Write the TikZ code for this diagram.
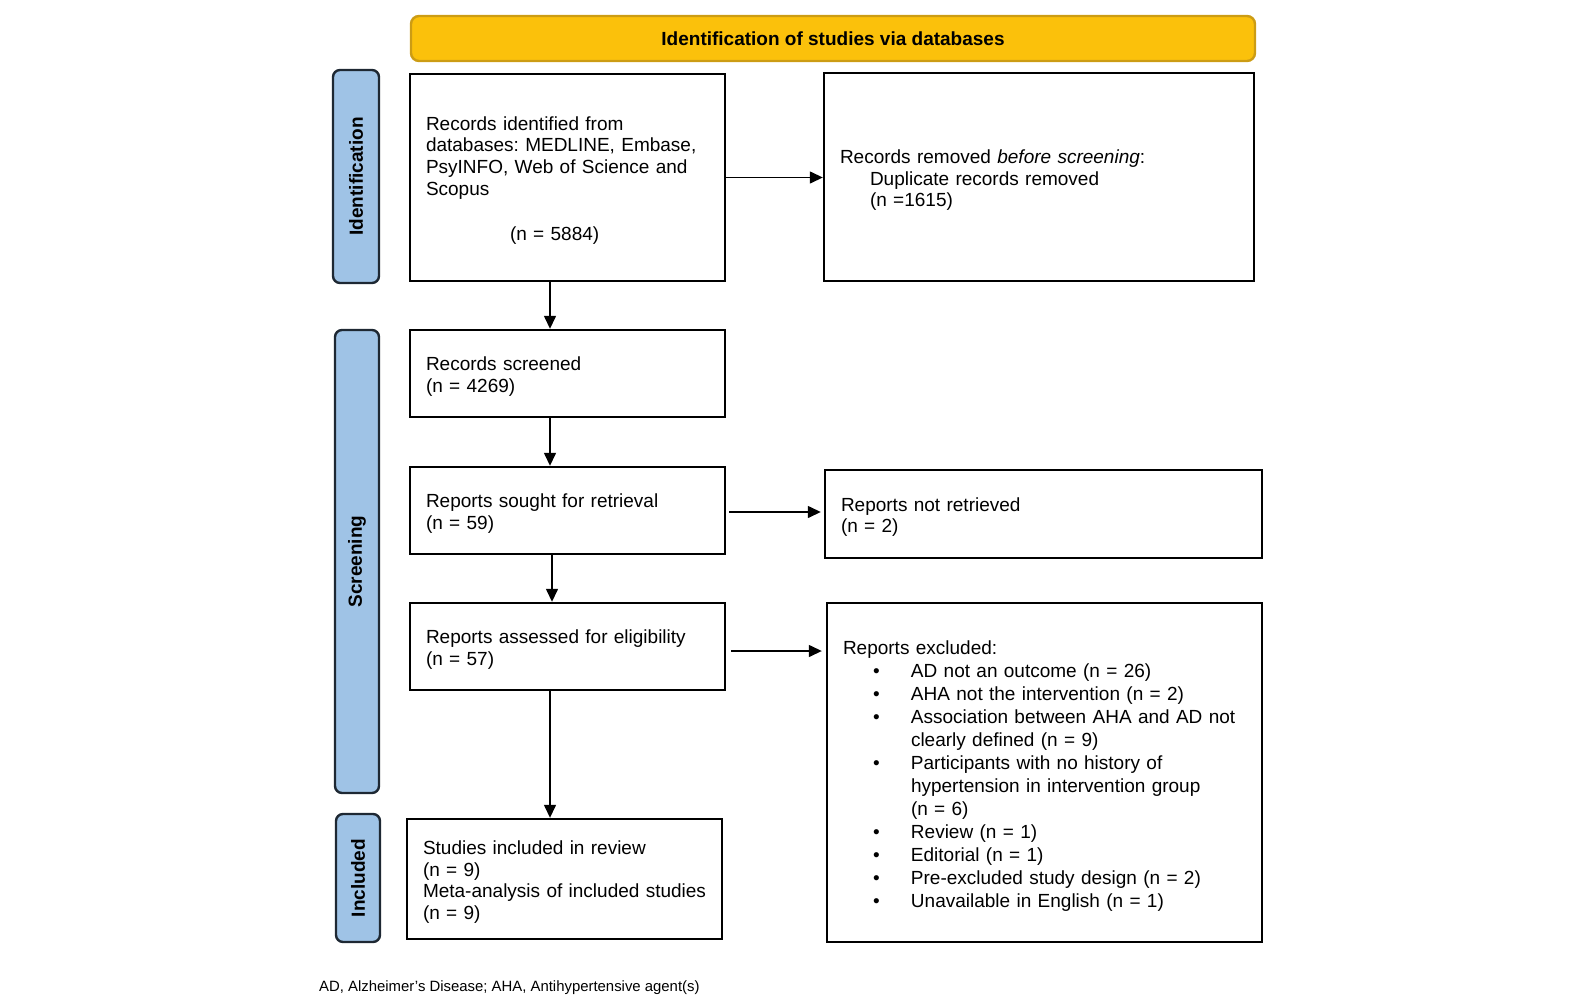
\documentclass[tikz,border=0pt]{standalone}
\usepackage{fontspec}
\setmainfont{Liberation Sans}
\usepackage{tikz}
\usetikzlibrary{arrows.meta,calc}
\frenchspacing
\definecolor{banner}{HTML}{FBC10B}
\definecolor{bannerdraw}{HTML}{CC9C14}
\definecolor{phase}{HTML}{9FC3E6}
\definecolor{phasedraw}{HTML}{1E2833}
\newcommand{\bodysize}{\fontsize{19}{21.8}\selectfont}
\newcommand{\listsize}{\fontsize{19}{23}\selectfont}
\newcommand{\topgap}{\rule{0pt}{20pt}}
\newcommand{\itm}[1]{\hspace*{30pt}\makebox[38pt][l]{\textbullet}#1}
\newcommand{\cont}[1]{\hspace*{68pt}#1}
\tikzset{
  recbox/.style={rectangle, draw=black, line width=2.4pt, fill=white, align=left,
                 inner xsep=16pt, inner ysep=0pt, font=\bodysize, text width=#1},
  phasebox/.style={rectangle, rounded corners=7pt, draw=phasedraw, line width=2.4pt, fill=phase,
                   rotate=90, font=\bodysize\bfseries, inner sep=0pt},
  arr/.style={-{Triangle[length=13pt,width=12pt]}, line width=1.4pt, draw=black},
}

\begin{document}
\begin{tikzpicture}[x=1pt,y=-1pt]
    \useasboundingbox (0,0) rectangle (1596,998);
    % banner
    \node[rectangle, rounded corners=8pt, draw=bannerdraw, line width=2.4pt, fill=banner,
          minimum width=844pt, minimum height=45pt, font=\bodysize\bfseries] (banner) at (833,38.5)
          {Identification of studies via databases};
    % phases
    \node[phasebox, minimum width=213pt, minimum height=46pt] (idphase) at (356,176.5) {Identification};
    \node[phasebox, minimum width=463pt, minimum height=44pt] (scrphase) at (357,561.5) {Screening};
    \node[phasebox, minimum width=128pt, minimum height=44pt] (incphase) at (358,878) {Included};
    % main column
    \node[recbox=283pt, minimum height=207pt] (ident) at (567.5,177.5)
      {\topgap Records identified from\\ databases: MEDLINE, Embase,\\ PsyINFO, Web of Science and\\ Scopus\\[23.5pt]
       \hspace*{84pt}(n = 5884)};
    \node[recbox=283pt, minimum height=87pt] (screened) at (567.5,373.5)
      {\topgap Records screened\\ (n = 4269)};
    \node[recbox=283pt, minimum height=87pt] (sought) at (567.5,510.5)
      {\topgap Reports sought for retrieval\\ (n = 59)};
    \node[recbox=283pt, minimum height=87pt] (assessed) at (567.5,646.5)
      {\topgap Reports assessed for eligibility\\ (n = 57)};
    \node[recbox=283pt, minimum height=120pt] (studies) at (564.5,879)
      {\topgap Studies included in review\\ (n = 9)\\ \mbox{Meta-analysis of included studies}\\ (n = 9)};
    % right column
    \node[recbox=398pt, minimum height=208pt] (removed) at (1039,177)
      {\topgap Records removed \textit{before screening}:\\ \hspace*{30pt}Duplicate records removed\\
       \hspace*{30pt}(n =1615)};
    \node[recbox=405pt, minimum height=88pt] (notret) at (1043.5,514)
      {\topgap Reports not retrieved\\ (n = 2)};
    \node[recbox=403pt, minimum height=339pt, font=\listsize] (excl) at (1044.5,772.5)
      {\topgap Reports excluded:\\
       \itm{AD not an outcome (n = 26)}\\
       \itm{AHA not the intervention (n = 2)}\\
       \itm{Association between AHA and AD not}\\
       \cont{clearly defined (n = 9)}\\
       \itm{Participants with no history of}\\
       \cont{hypertension in intervention group}\\
       \cont{(n = 6)}\\
       \itm{Review (n = 1)}\\
       \itm{Editorial (n = 1)}\\
       \itm{Pre-excluded study design (n = 2)}\\
       \itm{Unavailable in English (n = 1)}};
    % footnote
    \node[anchor=west, inner sep=0pt, font=\fontsize{14.9}{18}\selectfont] (note) at (319,987.5)
      {AD, Alzheimer's Disease; AHA, Antihypertensive agent(s)};
    % connectors
    \coordinate (spine) at (550,0);
    \draw[arr] (ident.south -| spine) -- (screened.north -| spine);
    \draw[arr] (screened.south -| spine) -- (sought.north -| spine);
    \draw[arr] ([xshift=2pt]sought.south -| spine) -- ([xshift=2pt]assessed.north -| spine);
    \draw[arr] (assessed.south -| spine) -- (studies.north -| spine);
    \draw[arr] (ident.east) -- (ident.east -| removed.west);
    \draw[arr] ([shift={(3pt,-1.5pt)}]sought.east) -- ([shift={(-3pt,-1.5pt)}]sought.east -| notret.west);
    \draw[arr] ([shift={(5pt,-4.5pt)}]assessed.east) -- ([shift={(-4pt,-4.5pt)}]assessed.east -| excl.west);
\end{tikzpicture}
\end{document}
